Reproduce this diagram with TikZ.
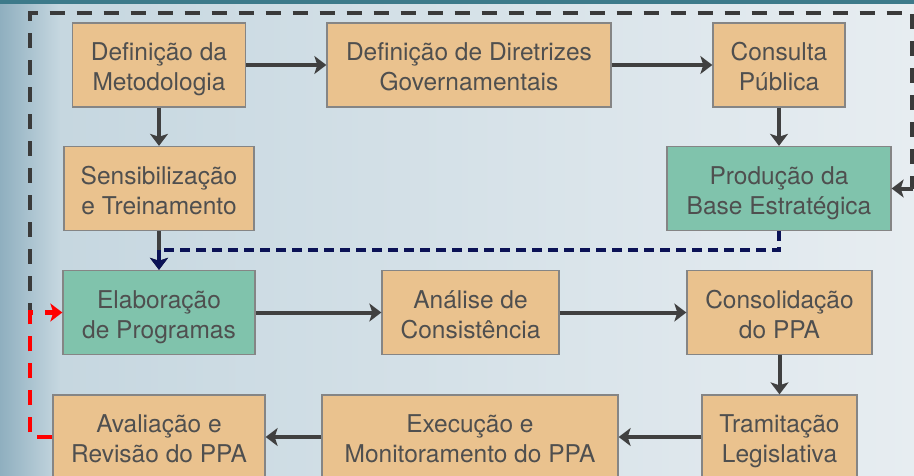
\documentclass[tikz,border=0pt]{standalone}
\usepackage{fontspec}
\setmainfont{TeX Gyre Heros}
\usetikzlibrary{math,arrows.meta}

\definecolor{boxorange}{HTML}{EAC28E}
\definecolor{boxgreen}{HTML}{80C3AC}
\definecolor{boxline}{HTML}{858585}
\definecolor{arrowgrey}{HTML}{404040}
\definecolor{textgrey}{HTML}{4F4F4F}
\definecolor{loopgrey}{HTML}{3A3A3A}
\definecolor{loopnavy}{HTML}{0B1256}
\definecolor{loopred}{HTML}{FF0000}
\definecolor{bgleft}{HTML}{8FAFBF}
\definecolor{bgmid}{HTML}{C6D7E0}
\definecolor{bgright}{HTML}{E7EDF1}
\definecolor{topbar}{HTML}{3D7A8A}

\tikzset{
  stage/.style={draw=boxline, line width=1.3pt, fill=boxorange, text=textgrey,
    align=center, inner sep=0pt, minimum height=84pt,
    text height=51pt, text depth=0pt,
    font=\fontsize{24.5}{30}\selectfont},
  keystage/.style={stage, fill=boxgreen},
  tip/.style={-{Stealth[length=12pt,width=18pt,inset=3pt]}},
  flow/.style={draw=arrowgrey, line width=4pt, tip},
  cycleline/.style={line width=4.5pt, dash pattern=on 15pt off 12pt},
}

\begin{document}
\begin{tikzpicture}[x=1pt, y=-1pt]
    \tikzmath{
      % ---------------------
      % the layout parameters
      % ---------------------
      \pagew=914; \pageh=475; % the size of the slide
      \colA=159; \colB=470; \colC=779; % the column centres
      \rowA=65; \rowB=188.5; \rowC=312.5; \rowD=437; % the row centres
      \xloop=30; \yloop=13; \xright=912.5; % the outer feedback path
      \ynavy=250; % the level of the navy shortcut
    }
    % ----------
    % background
    % ----------
    \useasboundingbox (0,0) rectangle (\pagew,\pageh);
    \shade[left color=bgleft, right color=bgmid] (0,0) rectangle (60,\pageh);
    \shade[left color=bgmid, right color=bgright] (60,0) rectangle (\pagew,\pageh);
    \fill[topbar] (0,0) rectangle (\pagew,4);
    % ----------
    % the stages
    % ----------
    \node[stage, minimum width=173pt] (metodologia) at (\colA,\rowA) {Definição da\\Metodologia};
    \node[stage, minimum width=284pt] (diretrizes) at (469,\rowA) {Definição de Diretrizes\\Governamentais};
    \node[stage, minimum width=132pt] (consulta) at (\colC,\rowA) {Consulta\\Pública};
    \node[stage, minimum width=190pt] (sensibilizacao) at (\colA,\rowB) {Sensibilização\\e Treinamento};
    \node[keystage, minimum width=224pt] (producao) at (\colC,\rowB) {Produção da\\Base Estratégica};
    \node[keystage, minimum width=192pt] (elaboracao) at (\colA,\rowC) {Elaboração\\de Programas};
    \node[stage, minimum width=177pt] (analise) at (470.5,\rowC) {Análise de\\Consistência};
    \node[stage, minimum width=185pt] (consolidacao) at (779.5,\rowC) {Consolidação\\do PPA};
    \node[stage, minimum width=212pt] (avaliacao) at (\colA,\rowD) {Avaliação e\\Revisão do PPA};
    \node[stage, minimum width=296pt] (execucao) at (\colB,\rowD) {Execução e\\Monitoramento do PPA};
    \node[stage, minimum width=155pt] (tramitacao) at (779.5,\rowD) {Tramitação\\Legislativa};
    % ---------
    % the flow
    % ---------
    \draw[flow] (metodologia) -- (diretrizes);
    \draw[flow] (diretrizes) -- (consulta);
    \draw[flow] (metodologia) -- (sensibilizacao);
    \draw[flow] (consulta) -- (producao);
    \draw[flow] (sensibilizacao) -- (elaboracao);
    \draw[flow] (elaboracao) -- (analise);
    \draw[flow] (analise) -- (consolidacao);
    \draw[flow] (consolidacao) -- (tramitacao);
    \draw[flow] (tramitacao) -- (execucao);
    \draw[flow] (execucao) -- (avaliacao);
    % -------------------
    % the feedback paths
    % -------------------
    \coordinate (redcorner) at (\xloop,\rowC);
    \coordinate (rightturn) at (\xright,\rowB);
    \coordinate (navyturn) at (\colA,\ynavy);
    \draw[cycleline, draw=loopgrey, dash phase=5pt] (redcorner) -- (\xloop,\yloop)
      -- (\xright,\yloop) -- (rightturn);
    \draw[flow] (rightturn) -- (producao.east);
    \draw[draw=loopnavy, line width=4pt, dash pattern=on 10pt off 6pt]
      (producao.south) -- (\colC,\ynavy) -- (navyturn);
    \draw[draw=loopnavy, line width=4pt, tip] (navyturn) -- (elaboracao.north);
    \draw[cycleline, draw=loopred, tip] (avaliacao.west) -- (\xloop,\rowD)
      -- (redcorner) -- (elaboracao.west);
\end{tikzpicture}
\end{document}
